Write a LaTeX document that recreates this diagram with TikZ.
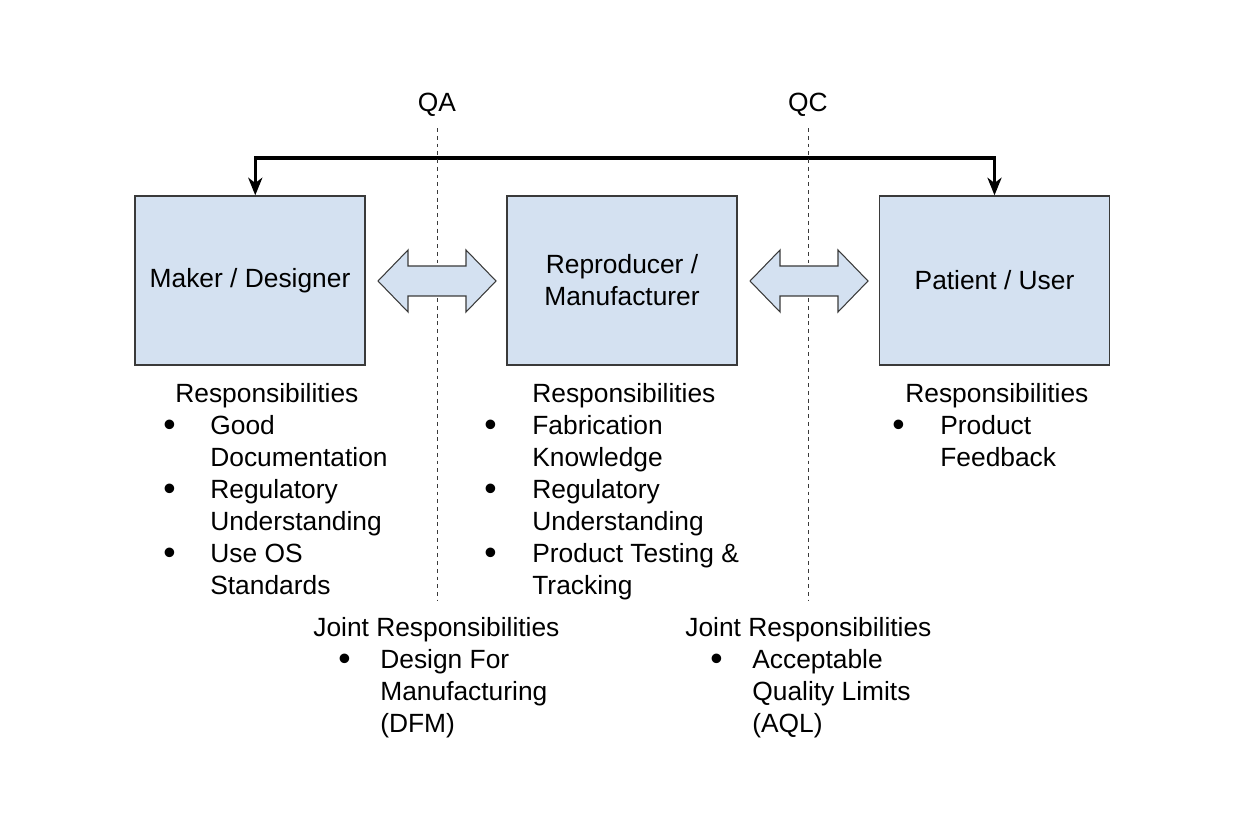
\documentclass[tikz,border=0pt]{standalone}
\usepackage{fontspec}
\setmainfont{Liberation Sans}
\usetikzlibrary{positioning,arrows.meta}

\definecolor{boxfill}{HTML}{D4E1F1}
\definecolor{boxline}{HTML}{3A3A3A}

\tikzset{
  role/.style = {draw = boxline, fill = boxfill, line width = 0.8pt, minimum width = 4.6cm,
                 minimum height = 3.38cm, inner sep = 0pt, align = center},
  link/.style = {line width = 1.8pt, {Stealth[length = 10pt, width = 8pt, inset = 3pt]}-{Stealth[length = 10pt, width = 8pt, inset = 3pt]}},
  divider/.style = {boxline, line width = 0.5pt, dash pattern = on 2.2pt off 2.2pt},
  swap/.style = {draw = boxline, fill = boxfill, line width = 0.6pt},
  duty/.style = {anchor = north west, inner sep = 0pt, align = left}
}

\newcommand{\dutydot}{{\fontsize{20}{18.2}\selectfont\raisebox{-1.2pt}{\textbullet}}}
% bulleted list: #1 heading indent, #2 text indent, #3 rows
\newcommand{\dutylist}[3]{%
  \begin{tabular}{@{}p{#2}@{}l@{}}
    \multicolumn{2}{@{\hspace{#1}}l@{}}{Responsibilities}\\ #3
  \end{tabular}}
\newcommand{\jointlist}[1]{%
  \begin{tabular}{@{\hspace{0.5cm}}p{0.84cm}@{}l@{}}
    \multicolumn{2}{@{}l@{}}{Joint Responsibilities}\\ #1
  \end{tabular}}

\begin{document}
\begin{tikzpicture}[x = 0.02cm, y = -0.02cm, font = \fontsize{15}{18.2}\selectfont]
\useasboundingbox (0,0) rectangle (1240,834);

% the three parties
\node[role] (maker) at (250,280.5) {Maker / Designer};
\node[role] (repro) at (622,280.5) {Reproducer /\\ Manufacturer};
\node[role] (user)  at (994.5,280.5) {Patient / User};

% feedback loop
\coordinate (loop) at (0,158);
\draw[link] ([xshift = 3]maker.north) -- ([xshift = 3]maker.north |- loop) -| (user.north);

% QA / QC boundaries
\node (qa) at (437,105) {QA};
\node (qc) at (808,105) {QC};
\coordinate (qaend) at (437,600);
\coordinate (qcend) at (808,600);
\draw[divider] ([yshift = -3]qa.south) -- (qaend);
\draw[divider] ([yshift = -3]qc.south) -- (qcend);

% exchange arrows
\foreach \x in {378,750}
  \draw[swap] (\x,281) -- ++(30,-31) -- ++(0,16) -- ++(58,0) -- ++(0,-16) -- ++(30,31)
    -- ++(-30,31) -- ++(0,-16) -- ++(-58,0) -- ++(0,16) -- cycle;

% responsibilities
\node[duty] (makerduty) at (163,380) {\dutylist{0.24cm}{0.94cm}{%
  \dutydot & Good\\ & Documentation\\ \dutydot & Regulatory\\ & Understanding\\
  \dutydot & Use OS\\ & Standards}};
\node[duty] (reproduty) at (484,380) {\dutylist{0.96cm}{0.96cm}{%
  \dutydot & Fabrication\\ & Knowledge\\ \dutydot & Regulatory\\ & Understanding\\
  \dutydot & Product Testing \&\\ & Tracking}};
\node[duty] (userduty) at (892,380) {\dutylist{0.26cm}{0.96cm}{%
  \dutydot & Product\\ & Feedback}};

% shared responsibilities
\node[duty] (qajoint) at (313,614) {\jointlist{%
  \dutydot & Design For\\ & Manufacturing\\ & (DFM)}};
\node[duty] (qcjoint) at (685,614) {\jointlist{%
  \dutydot & Acceptable\\ & Quality Limits\\ & (AQL)}};
\end{tikzpicture}
\end{document}
